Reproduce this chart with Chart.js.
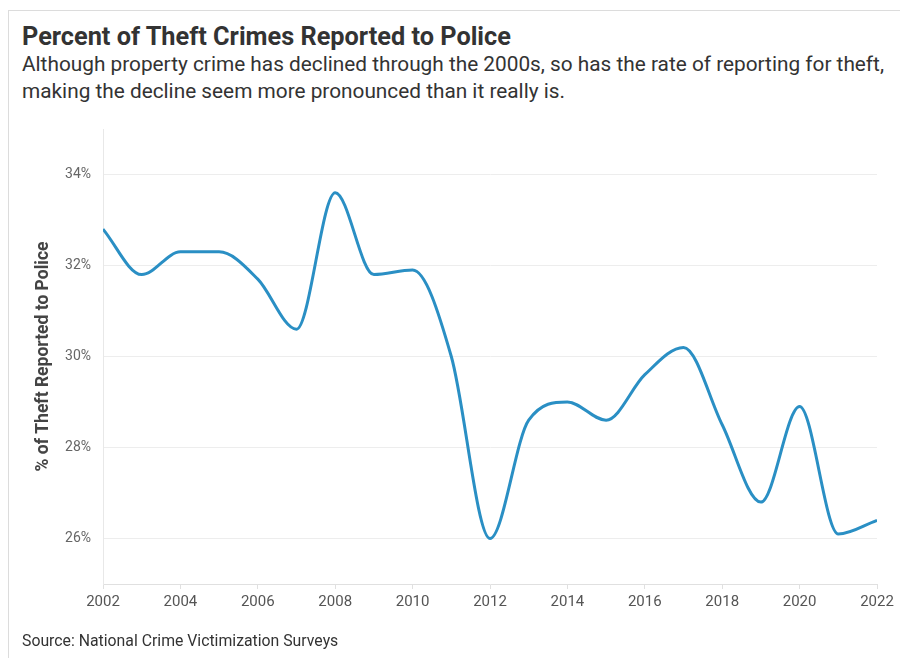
<!DOCTYPE html>
<html>
<head>
<meta charset="utf-8">
<script src="https://cdn.jsdelivr.net/npm/chart.js@4.4.1/dist/chart.umd.min.js"></script>
<style>
  html, body { margin: 0; padding: 0; background: #fff; }
  body { width: 900px; height: 658px; position: relative; overflow: hidden; font-family: Roboto, "Open Sans", sans-serif; }
  .frame { position: absolute; left: 8px; top: 10px; width: 900px; height: 700px; border: 1px solid #dcdcdc; box-sizing: border-box; }
  h1 { position: absolute; left: 22px; top: 22px; margin: 0; font-size: 25.3px; font-weight: 700; color: #333; line-height: 30px; }
  .sub { position: absolute; left: 22px; top: 51px; margin: 0; font-size: 20.8px; color: #333; line-height: 27px; }
  .source { position: absolute; left: 22px; top: 631px; margin: 0; font-size: 15.8px; color: #333; }
  canvas { position: absolute; left: 0; top: 0; }
</style>
</head>
<body>
<div class="frame"></div>
<h1>Percent of Theft Crimes Reported to Police</h1>
<p class="sub">Although property crime has declined through the 2000s, so has the rate of reporting for theft,<br>making the decline seem more pronounced than it really is.</p>
<canvas id="theftChart" width="900" height="658"></canvas>
<p class="source">Source: National Crime Victimization Surveys</p>
<script>
const years = [2002, 2003, 2004, 2005, 2006, 2007, 2008, 2009, 2010, 2011, 2012,
               2013, 2014, 2015, 2016, 2017, 2018, 2019, 2020, 2021, 2022];
const reportedPct = [32.8, 31.8, 32.3, 32.3, 31.7, 30.6, 33.6, 31.8, 31.9, 30.0, 26.0,
                     28.6, 29.0, 28.6, 29.6, 30.2, 28.5, 26.8, 28.9, 26.1, 26.4];
const yTicks = [26, 28, 30, 32, 34];
const xTicks = [2002, 2004, 2006, 2008, 2010, 2012, 2014, 2016, 2018, 2020, 2022];

const points = years.map((yr, i) => ({ x: yr, y: reportedPct[i] }));

new Chart(document.getElementById('theftChart'), {
    type: 'line',
    data: {
        datasets: [{
            label: '% of Theft Reported to Police',
            data: points,
            borderColor: '#2a8fc4',
            borderWidth: 3,
            pointRadius: 0,
            cubicInterpolationMode: 'monotone',
            fill: false
        }]
    },
    options: {
        responsive: false,
        animation: false,
        layout: { padding: { left: 29, right: 23, top: 129, bottom: 44 } },
        plugins: { legend: { display: false }, tooltip: { enabled: false } },
        scales: {
            x: {
                type: 'linear',
                min: 2002,
                max: 2022,
                afterBuildTicks: axis => { axis.ticks = xTicks.map(v => ({ value: v })); },
                afterFit: axis => { axis.height = 30; },
                grid: { drawOnChartArea: false, drawTicks: true, tickLength: 5, color: '#e0e0e0' },
                border: { color: '#e0e0e0' },
                ticks: {
                    padding: 4,
                    maxRotation: 0,
                    color: '#555',
                    font: { family: 'Roboto', size: 15 },
                    callback: v => String(v)
                }
            },
            y: {
                min: 25,
                max: 35,
                afterBuildTicks: axis => { axis.ticks = yTicks.map(v => ({ value: v })); },
                afterFit: axis => { axis.width = 74; },
                grid: { drawTicks: false, color: '#ededed' },
                border: { color: '#e8e8e8' },
                title: {
                    display: true,
                    text: '% of Theft Reported to Police',
                    color: '#444',
                    font: { family: 'Roboto', size: 17.5, weight: 'bold' }
                },
                ticks: {
                    padding: 12,
                    color: '#666',
                    font: { family: 'Roboto', size: 14 },
                    callback: v => v + '%'
                }
            }
        }
    }
});
</script>
</body>
</html>
